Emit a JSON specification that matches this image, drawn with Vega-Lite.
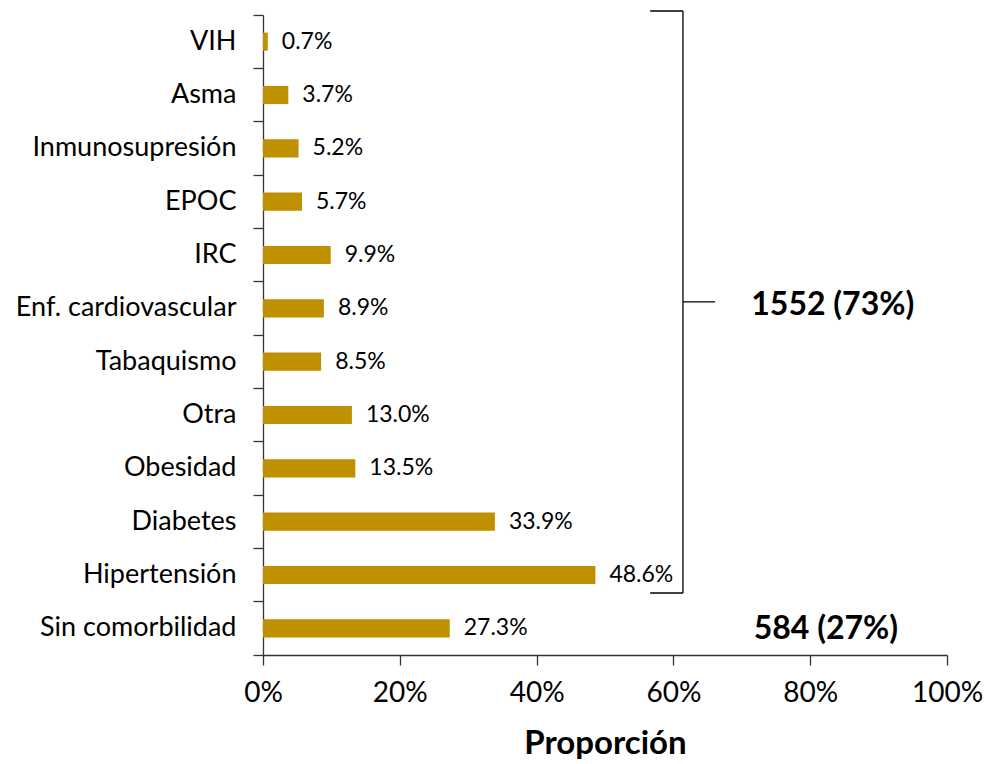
{
  "$schema": "https://vega.github.io/schema/vega-lite/v6.json",
  "width": 684,
  "height": 640,
  "autosize": {"type": "none"},
  "padding": {"left": 263, "top": 15, "right": 39, "bottom": 109},
  "background": "white",
  "config": {"view": {"stroke": null}, "font": "Lato"},
  "datasets": {
    "bars": [
      {"cat": "VIH", "val": 0.007},
      {"cat": "Asma", "val": 0.037},
      {"cat": "Inmunosupresión", "val": 0.052},
      {"cat": "EPOC", "val": 0.057},
      {"cat": "IRC", "val": 0.099},
      {"cat": "Enf. cardiovascular", "val": 0.089},
      {"cat": "Tabaquismo", "val": 0.085},
      {"cat": "Otra", "val": 0.130},
      {"cat": "Obesidad", "val": 0.135},
      {"cat": "Diabetes", "val": 0.339},
      {"cat": "Hipertensión", "val": 0.486},
      {"cat": "Sin comorbilidad", "val": 0.273}
    ],
    "bracket": [
      {"x": 0.566, "x2": 0.614, "y": 12.075, "y2": 12.075},
      {"x": 0.614, "x2": 0.614, "y": 12.075, "y2": 1.1625},
      {"x": 0.566, "x2": 0.614, "y": 1.1625, "y2": 1.1625},
      {"x": 0.614, "x2": 0.661, "y": 6.62, "y2": 6.62}
    ],
    "notes": [
      {"x": 0.833, "y": 6.56, "label": "1552 (73%)"},
      {"x": 0.823, "y": 0.49, "label": "584 (27%)"}
    ]
  },
  "layer": [
    {
      "data": {"name": "bars"},
      "layer": [
        {
          "mark": {"type": "bar", "color": "#BF9000", "height": {"band": 0.34}},
          "encoding": {
            "y": {
              "field": "cat", "type": "nominal", "sort": null,
              "scale": {"paddingInner": 0, "paddingOuter": 0},
              "axis": {
                "title": null, "bandPosition": 1, "tickExtra": true, "labelLimit": 0,
                "labelFont": "Lato", "labelFontSize": 27, "labelColor": "#000",
                "labelPadding": 17, "tickSize": 10, "tickColor": "#333", "domainColor": "#333",
                "tickWidth": 1.3, "domainWidth": 1.3
              }
            },
            "x": {
              "field": "val", "type": "quantitative",
              "scale": {"domain": [0, 1], "nice": false},
              "axis": {
                "title": "Proporción", "format": "%", "values": [0, 0.2, 0.4, 0.6, 0.8, 1],
                "grid": false, "labelFlush": false, "labelFont": "Lato", "labelFontSize": 28, "labelColor": "#000",
                "labelPadding": 14, "tickSize": 10, "tickColor": "#333", "domainColor": "#333",
                "tickWidth": 1.3, "domainWidth": 1.3,
                "titleFont": "Lato", "titleFontSize": 33, "titleFontWeight": "bold",
                "titleColor": "#000", "titlePadding": 20
              }
            }
          }
        },
        {
          "mark": {"type": "text", "align": "left", "baseline": "middle", "dx": 14, "fontSize": 23, "font": "Lato", "color": "#000"},
          "encoding": {
            "y": {"field": "cat", "type": "nominal", "sort": null},
            "x": {"field": "val", "type": "quantitative"},
            "text": {"field": "val", "type": "quantitative", "format": ".1%"}
          }
        }
      ]
    },
    {
      "data": {"name": "bracket"},
      "mark": {"type": "rule", "color": "#000", "strokeWidth": 1.3, "clip": false},
      "encoding": {
        "x": {"field": "x", "type": "quantitative"},
        "x2": {"field": "x2"},
        "y": {"field": "y", "type": "quantitative", "scale": {"domain": [0, 12], "nice": false, "zero": false}, "axis": null},
        "y2": {"field": "y2"}
      }
    },
    {
      "data": {"name": "notes"},
      "mark": {"type": "text", "align": "center", "baseline": "middle", "fontSize": 32, "fontWeight": "bold", "font": "Lato", "color": "#000"},
      "encoding": {
        "x": {"field": "x", "type": "quantitative"},
        "y": {"field": "y", "type": "quantitative", "scale": {"domain": [0, 12], "nice": false, "zero": false}, "axis": null},
        "text": {"field": "label"}
      }
    }
  ],
  "resolve": {"scale": {"y": "independent"}}
}
